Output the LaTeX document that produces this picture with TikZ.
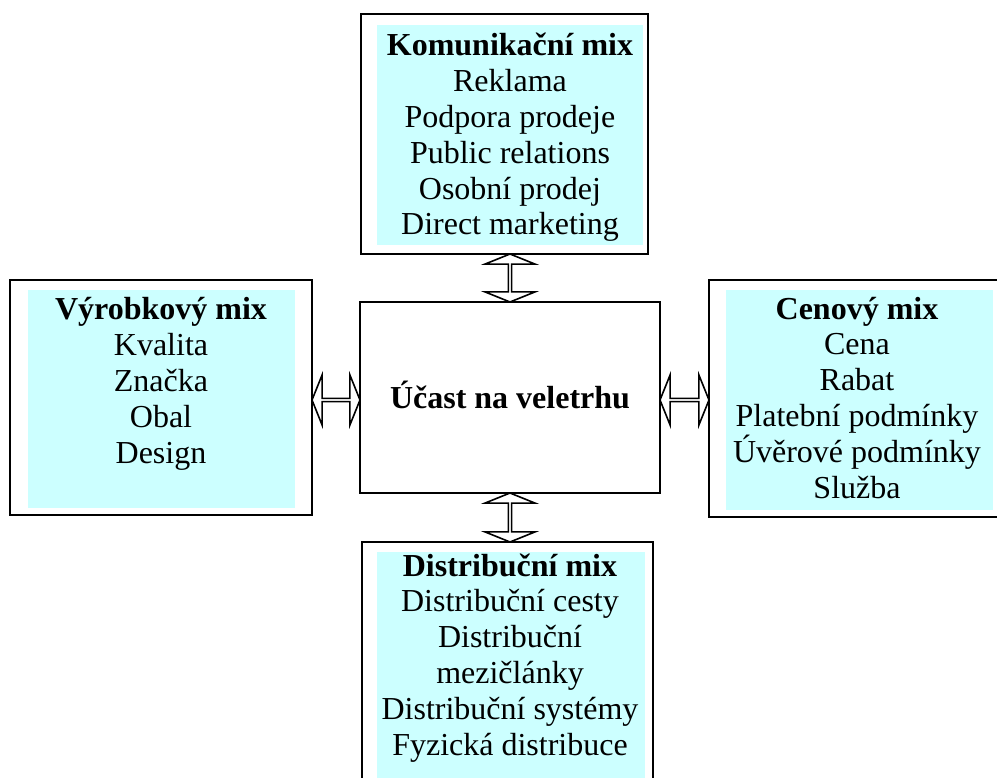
\documentclass[tikz,border=0pt]{standalone}
\usepackage{fontspec}
\setmainfont{Liberation Serif}
\usetikzlibrary{shapes.arrows,calc}
\definecolor{lcyan}{HTML}{CCFFFF}
\begin{document}
\begin{tikzpicture}[x=1pt,y=-1pt,
  box/.style={draw, line width=1.8pt, fill=white, rectangle, inner sep=0pt},
  panel/.style={fill=lcyan, draw=none, rectangle, inner sep=0pt},
  txt/.style={font=\fontsize{32}{35.8}\selectfont, align=center, inner sep=0pt, anchor=base},
  dbl/.style={double arrow, draw, fill=white, line width=1.6pt, inner sep=0pt,
    minimum width=50pt, double arrow head extend=11pt, double arrow tip angle=136,
    double arrow head indent=0pt}]
\useasboundingbox (0,0) rectangle (997,778);
\clip (0,0) rectangle (997,778);
\fill[white] (0,0) rectangle (997,778);
% outer boxes
\node[box, minimum width=287pt, minimum height=240pt] (topbox) at (504.5,134) {};
\node[box, minimum width=302pt, minimum height=235pt] (lbox) at (161,397.5) {};
\node[box, minimum width=296pt, minimum height=237pt] (rbox) at (857,398.5) {};
\node[box, minimum width=300pt, minimum height=191pt] (ctr) at (510,397.5) {};
\node[box, minimum width=291pt, minimum height=258pt] (bbox) at (507.5,671) {};
% cyan panels
\node[panel, minimum width=266pt, minimum height=220pt] (tfill) at (510,135) {};
\node[panel, minimum width=267pt, minimum height=218pt] (lfill) at (161.5,399) {};
\node[panel, minimum width=267pt, minimum height=220pt] (rfill) at (859.5,400) {};
\node[panel, minimum width=268pt, minimum height=248pt] (bfill) at (511,676) {};
% texts (anchored at the baseline of the last line)
\node[txt] (ttxt) at (510,235) {\textbf{Komunikační mix}\\Reklama\\Podpora prodeje\\Public relations\\Osobní prodej\\Direct marketing};
\node[txt] (ltxt) at (161,463) {\textbf{Výrobkový mix}\\Kvalita\\Značka\\Obal\\Design};
\node[txt] (rtxt) at (857,498) {\textbf{Cenový mix}\\Cena\\Rabat\\Platební podmínky\\Úvěrové podmínky\\Služba};
\node[txt] (btxt) at (510,755) {\textbf{Distribuční mix}\\Distribuční cesty\\Distribuční\\mezičlánky\\Distribuční systémy\\Fyzická distribuce};
\node[font=\fontsize{32}{35.8}\selectfont\bfseries, inner sep=0pt, anchor=base] (ctxt) at (510,408) {Účast na veletrhu};
% double arrows
\node[dbl, rotate=90, minimum height=48pt] (aT) at ($(ctr.north)!.5!(ctr.north |- topbox.south)$) {};
\node[dbl, rotate=90, minimum height=49pt] (aB) at ($(ctr.south)!.5!(ctr.south |- bbox.north)$) {};
\node[dbl, minimum height=48pt] (aL) at ($(lbox.east |- 0,400)!.5!(ctr.west |- 0,400)$) {};
\node[dbl, minimum height=49pt] (aR) at ($(ctr.east |- 0,400)!.5!(rbox.west |- 0,400)$) {};
\end{tikzpicture}
\end{document}
